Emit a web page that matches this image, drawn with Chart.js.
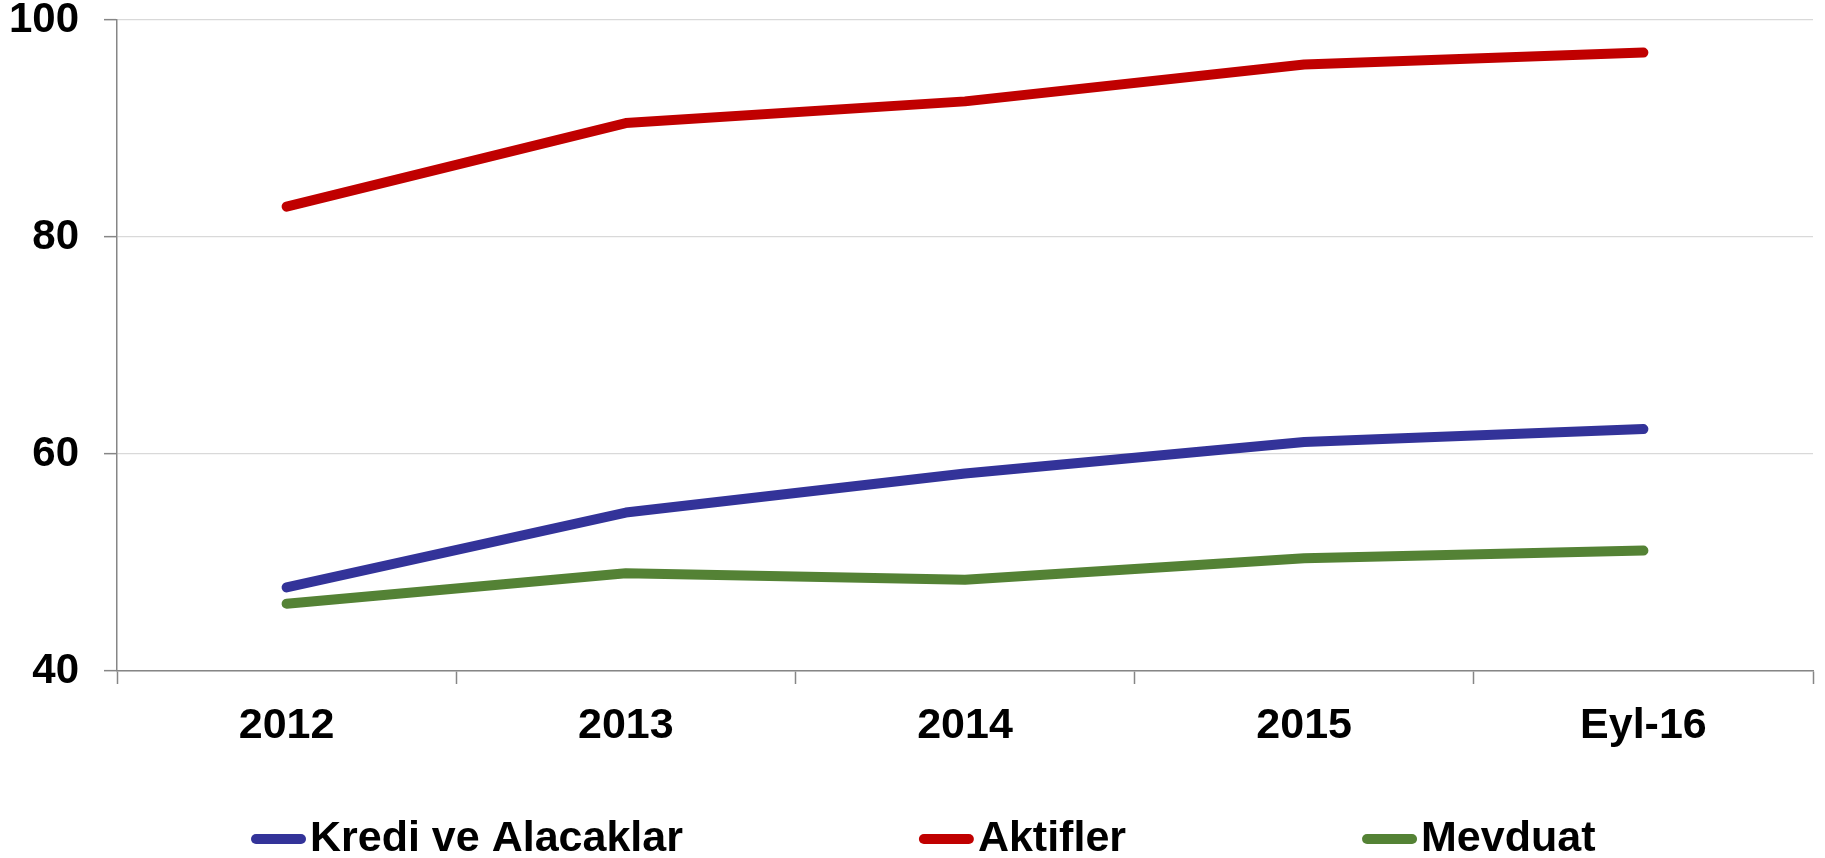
<!DOCTYPE html>
<html>
<head>
<meta charset="utf-8">
<script src="https://cdn.jsdelivr.net/npm/chart.js@4.4.0/dist/chart.umd.min.js"></script>
<style>
  html, body { margin: 0; padding: 0; background: #fff; }
  #wrap { width: 1825px; height: 858px; position: relative; }
</style>
</head>
<body>
<div id="wrap"><canvas id="chart"></canvas></div>
<script>
const categories = ["2012", "2013", "2014", "2015", "Eyl-16"];
const krediValues = [47.7, 54.6, 58.2, 61.1, 62.3];
const aktiflerValues = [82.8, 90.5, 92.5, 95.9, 97.0];
const mevduatValues = [46.2, 49.0, 48.4, 50.4, 51.1];
const yTicks = [40, 60, 80, 100];

const FONT = "'Liberation Sans', Arial, sans-serif";
const AXIS = '#868686';

// legend row under the axis, items spaced like the original
const bottomLegend = {
  id: 'bottomLegend',
  afterDraw(chart) {
    const ctx = chart.ctx;
    const y = 839;
    let x = 251;
    ctx.save();
    ctx.font = "bold 43px " + FONT;
    ctx.textBaseline = 'middle';
    chart.data.datasets.forEach(ds => {
      ctx.strokeStyle = ds.borderColor;
      ctx.lineWidth = 10;
      ctx.lineCap = 'round';
      ctx.beginPath();
      ctx.moveTo(x + 5, y);
      ctx.lineTo(x + 50, y);
      ctx.stroke();
      ctx.fillStyle = '#000';
      ctx.fillText(ds.label, x + 59, y);
      x += 59 + ctx.measureText(ds.label).width + 236;
    });
    ctx.restore();
  }
};

new Chart(document.getElementById('chart'), {
  type: 'line',
  data: {
    labels: categories,
    datasets: [
      { label: 'Kredi ve Alacaklar', data: krediValues, borderColor: '#333399' },
      { label: 'Aktifler', data: aktiflerValues, borderColor: '#C00000' },
      { label: 'Mevduat', data: mevduatValues, borderColor: '#548235' }
    ]
  },
  options: {
    responsive: true,
    maintainAspectRatio: false,
    animation: false,
    datasets: {
      line: { borderWidth: 10, pointRadius: 0, borderCapStyle: 'round', borderJoinStyle: 'round', tension: 0 }
    },
    layout: { padding: { top: 20, right: 12, bottom: 107, left: 0 } },
    plugins: { legend: { display: false }, tooltip: { enabled: false } },
    scales: {
      x: {
        offset: true,
        grid: { offset: true, drawOnChartArea: false, drawTicks: true, tickLength: 13, tickColor: AXIS, tickWidth: 1.5 },
        border: { color: AXIS, width: 1.5 },
        ticks: { font: { family: FONT, size: 43, weight: 'bold' }, color: '#000', padding: 16, maxRotation: 0 },
        afterFit(s) { s.height = 80; s.paddingLeft = 0; s.paddingRight = 0; }
      },
      y: {
        min: 40,
        max: 100,
        afterBuildTicks(s) { s.ticks = yTicks.map(v => ({ value: v })); },
        grid: { color: '#d9d9d9', lineWidth: 1.3, tickColor: AXIS, tickLength: 13, tickWidth: 1.5 },
        border: { color: AXIS, width: 1.5 },
        ticks: { font: { family: FONT, size: 42, weight: 'bold', lineHeight: 1 }, color: '#000', padding: 25 },
        afterFit(s) { s.width = 117; s.paddingTop = 0; s.paddingBottom = 0; }
      }
    }
  },
  plugins: [bottomLegend]
});
</script>
</body>
</html>
